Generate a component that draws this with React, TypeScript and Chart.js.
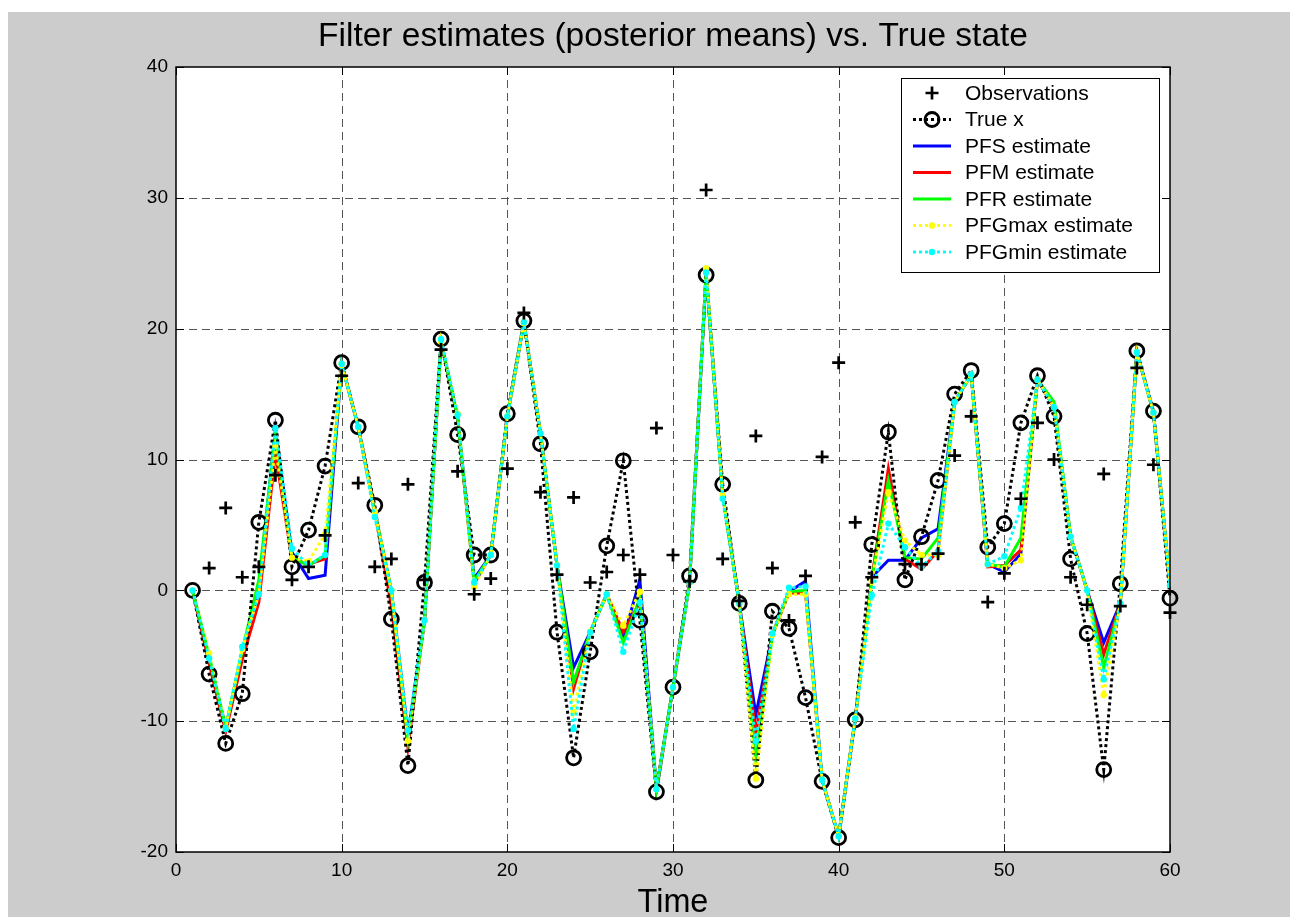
import React, { useEffect, useRef } from 'react';
import { Chart, registerables } from 'chart.js';

Chart.register(...registerables);

const FONT = "'Liberation Sans', Arial, Helvetica, sans-serif";

const chartTitle = 'Filter estimates (posterior means) vs. True state';
const xAxisTitle = 'Time';

const timeSteps = [
  1, 2, 3, 4, 5, 6, 7, 8, 9, 10,
  11, 12, 13, 14, 15, 16, 17, 18, 19, 20,
  21, 22, 23, 24, 25, 26, 27, 28, 29, 30,
  31, 32, 33, 34, 35, 36, 37, 38, 39, 40,
  41, 42, 43, 44, 45, 46, 47, 48, 49, 50,
  51, 52, 53, 54, 55, 56, 57, 58, 59, 60,
];

const observations = [
  null, 1.7, 6.3, 1.0, 1.8, 8.8, 0.8, 1.8, 4.2, 16.4,
  8.2, 1.8, 2.4, 8.1, 0.8, 18.4, 9.1, -0.3, 0.9, 9.3,
  21.2, 7.5, 1.2, 7.1, 0.6, 1.4, 2.7, 1.2, 12.4, 2.7,
  0.7, 30.6, 2.4, -0.8, 11.8, 1.7, -2.3, 1.1, 10.2, 17.4,
  5.2, 1.0, null, 2.0, 2.0, 2.8, 10.3, 13.3, -0.9, 1.3,
  7.0, 12.8, 10.0, 1.0, -1.1, 8.9, -1.2, 17.0, 9.6, -1.7,
];

const trueX = [
  0.0, -6.4, -11.7, -7.9, 5.2, 13.0, 1.8, 4.6, 9.5, 17.4,
  12.5, 6.5, -2.2, -13.4, 0.6, 19.2, 11.9, 2.7, 2.7, 13.5,
  20.6, 11.2, -3.2, -12.8, -4.7, 3.4, 9.9, -2.3, -15.4, -7.4,
  1.1, 24.1, 8.1, -1.0, -14.5, -1.6, -2.9, -8.2, -14.6, -18.9,
  -9.9, 3.5, 12.1, 0.8, 4.1, 8.4, 15.0, 16.8, 3.3, 5.1,
  12.8, 16.4, 13.3, 2.4, -3.3, -13.7, 0.5, 18.3, 13.7, -0.6,
];

const pfsEstimate = [
  0.0, -5.2, -10.5, -4.6, 0.0, 12.3, 2.9, 0.9, 1.15, 17.3,
  12.5, 6.0, 0.0, -11.0, -2.3, 19.0, 13.2, 0.9, 2.7, 13.3,
  20.5, 12.0, 1.9, -5.9, -3.2, -0.3, -3.7, 0.8, -15.2, -7.4,
  0.6, 24.3, 7.3, -1.0, -9.5, -3.4, -0.1, 0.7, -14.5, -18.8,
  -9.8, 1.0, 2.3, 2.3, 4.0, 4.7, 14.4, 16.5, 2.0, 1.4,
  2.8, 16.1, 14.0, 4.1, 0.0, -4.0, -1.0, 18.2, 13.6, 0.4,
];

const pfmEstimate = [
  0.0, -5.6, -10.8, -5.3, -0.9, 10.5, 2.4, 2.0, 2.4, 17.3,
  12.5, 6.0, -1.2, -12.0, -2.3, 19.0, 13.2, 0.5, 2.7, 13.3,
  20.5, 12.0, 1.9, -7.5, -3.2, -0.3, -3.2, -0.9, -15.2, -7.4,
  0.6, 24.3, 7.3, -1.0, -10.9, -3.4, -0.2, -0.2, -14.5, -18.8,
  -9.8, 0.9, 9.3, 2.4, 1.6, 3.0, 14.4, 16.5, 1.8, 1.9,
  3.1, 16.1, 14.0, 4.1, 0.0, -4.9, -1.0, 18.2, 13.6, 0.4,
];

const pfrEstimate = [
  0.0, -5.0, -10.5, -4.6, 0.8, 12.0, 2.5, 1.9, 2.7, 17.3,
  12.5, 6.0, 0.0, -11.5, -2.3, 19.0, 13.2, 0.7, 2.7, 13.3,
  20.5, 12.0, 1.9, -7.0, -3.2, -0.3, -4.0, -0.6, -15.2, -7.4,
  0.6, 24.3, 7.3, -1.0, -13.0, -3.4, -0.1, 0.0, -14.5, -18.8,
  -9.8, 0.8, 8.4, 2.5, 2.4, 4.0, 14.4, 16.5, 2.0, 1.8,
  4.0, 16.1, 14.4, 4.1, 0.0, -5.9, -1.0, 18.2, 13.6, 0.4,
];

const pfgMaxEstimate = [
  0.0, -4.8, -10.5, -4.5, -0.3, 11.0, 2.5, 2.2, 4.3, 17.3,
  12.5, 6.0, 0.0, -11.5, -2.3, 19.0, 13.5, 0.3, 2.7, 13.3,
  20.5, 12.0, 1.9, -9.3, -3.2, -0.3, -2.7, -0.1, -15.2, -7.4,
  0.6, 24.6, 7.3, -1.0, -14.4, -3.4, -0.3, -0.3, -14.5, -18.8,
  -9.8, 0.7, 7.5, 3.8, 2.7, 2.7, 14.4, 16.5, 2.0, 1.7,
  2.3, 16.1, 14.0, 4.1, 0.0, -8.0, -1.0, 18.2, 13.6, 0.4,
];

const pfgMinEstimate = [
  0.0, -5.2, -10.6, -4.3, -0.3, 12.4, 3.2, 1.9, 2.7, 17.3,
  12.5, 5.6, 0.0, -10.7, -2.3, 19.2, 13.4, 0.6, 2.7, 13.3,
  20.5, 12.0, 1.9, -10.6, -3.2, -0.3, -4.7, -0.9, -15.2, -7.4,
  0.6, 24.3, 7.0, -1.0, -11.5, -3.3, 0.2, 0.3, -14.5, -18.8,
  -9.8, -0.4, 5.1, 3.3, 1.8, 3.0, 14.4, 16.5, 2.0, 2.6,
  6.3, 16.1, 14.0, 4.1, 0.0, -6.8, -1.0, 18.2, 13.6, 0.4,
];

const xTicks = [0, 10, 20, 30, 40, 50, 60];
const yTicks = [-20, -10, 0, 10, 20, 30, 40];

const toPoints = (values: (number | null)[]) => timeSteps.map((t, i) => ({ x: t, y: values[i] }));

const drawLegendSample = (ctx: CanvasRenderingContext2D, ds: any, x1: number, x2: number, y: number) => {
  const cx = (x1 + x2) / 2;
  ctx.save();
  if (ds.showLine !== false) {
    ctx.strokeStyle = ds.borderColor;
    ctx.lineWidth = ds.borderWidth;
    ctx.setLineDash(ds.borderDash || []);
    ctx.beginPath();
    ctx.moveTo(x1, y);
    ctx.lineTo(x2, y);
    ctx.stroke();
  }
  ctx.setLineDash([]);
  const r = ds.pointRadius || 0;
  if (r > 0) {
    if (ds.pointStyle === 'cross') {
      ctx.strokeStyle = ds.pointBorderColor;
      ctx.lineWidth = ds.pointBorderWidth;
      ctx.beginPath();
      ctx.moveTo(cx - r, y);
      ctx.lineTo(cx + r, y);
      ctx.moveTo(cx, y - r);
      ctx.lineTo(cx, y + r);
      ctx.stroke();
    } else {
      ctx.beginPath();
      ctx.arc(cx, y, r, 0, Math.PI * 2);
      if (ds.pointBackgroundColor && ds.pointBackgroundColor !== 'rgba(0,0,0,0)') {
        ctx.fillStyle = ds.pointBackgroundColor;
        ctx.fill();
      }
      if (ds.pointBorderWidth > 0) {
        ctx.strokeStyle = ds.pointBorderColor;
        ctx.lineWidth = ds.pointBorderWidth;
        ctx.stroke();
      }
    }
  }
  ctx.restore();
};

const matlabAxesPlugin = {
  id: 'matlabAxes',
  beforeDraw(chart: any) {
    const { ctx, chartArea: a } = chart;
    ctx.save();
    ctx.fillStyle = '#cccccc';
    ctx.fillRect(0, 0, chart.width, chart.height);
    ctx.fillStyle = '#ffffff';
    ctx.fillRect(a.left, a.top, a.right - a.left, a.bottom - a.top);
    ctx.restore();
  },
  beforeDatasetsDraw(chart: any) {
    const { ctx, chartArea: a, scales } = chart;
    ctx.save();
    ctx.strokeStyle = '#555555';
    ctx.lineWidth = 1;
    ctx.setLineDash([8, 5]);
    xTicks.forEach((v) => {
      const px = Math.round(scales.x.getPixelForValue(v)) + 0.5;
      if (px <= a.left + 2 || px >= a.right - 2) return;
      ctx.beginPath();
      ctx.moveTo(px, a.top);
      ctx.lineTo(px, a.bottom);
      ctx.stroke();
    });
    yTicks.forEach((v) => {
      const py = Math.round(scales.y.getPixelForValue(v)) + 0.5;
      if (py <= a.top + 2 || py >= a.bottom - 2) return;
      ctx.beginPath();
      ctx.moveTo(a.left, py);
      ctx.lineTo(a.right, py);
      ctx.stroke();
    });
    ctx.restore();
  },
  afterDatasetsDraw(chart: any) {
    const { ctx, chartArea: a, scales } = chart;
    ctx.save();
    ctx.setLineDash([]);
    ctx.strokeStyle = '#000000';
    ctx.lineWidth = 1.5;
    ctx.strokeRect(a.left, a.top, a.right - a.left, a.bottom - a.top);
    ctx.lineWidth = 1;
    const tl = 8;
    xTicks.forEach((v) => {
      const px = Math.round(scales.x.getPixelForValue(v)) + 0.5;
      ctx.beginPath();
      ctx.moveTo(px, a.bottom);
      ctx.lineTo(px, a.bottom - tl);
      ctx.moveTo(px, a.top);
      ctx.lineTo(px, a.top + tl);
      ctx.stroke();
    });
    yTicks.forEach((v) => {
      const py = Math.round(scales.y.getPixelForValue(v)) + 0.5;
      ctx.beginPath();
      ctx.moveTo(a.left, py);
      ctx.lineTo(a.left + tl, py);
      ctx.moveTo(a.right, py);
      ctx.lineTo(a.right - tl, py);
      ctx.stroke();
    });
    ctx.restore();
  },
  afterDraw(chart: any) {
    const { ctx, chartArea: a } = chart;
    ctx.save();
    // title, centred over the axes box
    ctx.fillStyle = '#000000';
    ctx.font = `33.5px ${FONT}`;
    ctx.textAlign = 'center';
    ctx.textBaseline = 'alphabetic';
    ctx.fillText(chartTitle, (a.left + a.right) / 2, 34);

    // legend
    const w = 258;
    const h = 194;
    const left = a.right - 11 - w;
    const top = a.top + 11;
    ctx.fillStyle = '#ffffff';
    ctx.fillRect(left, top, w, h);
    ctx.strokeStyle = '#000000';
    ctx.lineWidth = 1;
    ctx.setLineDash([]);
    ctx.strokeRect(left + 0.5, top + 0.5, w, h);
    ctx.font = `21px ${FONT}`;
    ctx.textBaseline = 'middle';
    ctx.textAlign = 'left';
    chart.data.datasets.forEach((ds: any, i: number) => {
      const y = top + 15 + i * 26.5;
      drawLegendSample(ctx, ds, left + 12, left + 50, y);
      ctx.fillStyle = '#000000';
      ctx.fillText(ds.label, left + 64, y + 1);
    });
    ctx.restore();
  },
};

export default function App() {
  const canvasRef = useRef<HTMLCanvasElement | null>(null);

  useEffect(() => {
    if (!canvasRef.current) return;
    Chart.defaults.font.family = FONT;
    const chart = new Chart(canvasRef.current, {
      type: 'line',
      data: {
        datasets: [
          {
            label: 'Observations',
            data: toPoints(observations),
            showLine: false,
            pointStyle: 'cross',
            pointRadius: 6.5,
            pointBorderWidth: 2.7,
            pointBorderColor: '#000000',
            pointBackgroundColor: '#000000',
            borderColor: '#000000',
            clip: false,
            order: 0,
          },
          {
            label: 'True x',
            data: toPoints(trueX),
            borderColor: '#000000',
            borderWidth: 3,
            borderDash: [3, 3],
            pointStyle: 'circle',
            pointRadius: 7,
            pointBorderWidth: 2.8,
            pointBorderColor: '#000000',
            pointBackgroundColor: 'rgba(0,0,0,0)',
            clip: false,
            order: 3,
          },
          {
            label: 'PFS estimate',
            data: toPoints(pfsEstimate),
            borderColor: '#0000ff',
            borderWidth: 3,
            pointRadius: 0,
            order: 6,
          },
          {
            label: 'PFM estimate',
            data: toPoints(pfmEstimate),
            borderColor: '#ff0000',
            borderWidth: 3,
            pointRadius: 0,
            order: 5,
          },
          {
            label: 'PFR estimate',
            data: toPoints(pfrEstimate),
            borderColor: '#00ff00',
            borderWidth: 3,
            pointRadius: 0,
            order: 4,
          },
          {
            label: 'PFGmax estimate',
            data: toPoints(pfgMaxEstimate),
            borderColor: '#ffff00',
            borderWidth: 3,
            borderDash: [3, 3],
            pointStyle: 'circle',
            pointRadius: 3.2,
            pointBorderWidth: 0,
            pointBorderColor: '#ffff00',
            pointBackgroundColor: '#ffff00',
            order: 2,
          },
          {
            label: 'PFGmin estimate',
            data: toPoints(pfgMinEstimate),
            borderColor: '#00ffff',
            borderWidth: 3,
            borderDash: [3, 3],
            pointStyle: 'circle',
            pointRadius: 3.2,
            pointBorderWidth: 0,
            pointBorderColor: '#00ffff',
            pointBackgroundColor: '#00ffff',
            order: 1,
          },
        ],
      },
      options: {
        responsive: false,
        animation: false,
        devicePixelRatio: 1,
        layout: { padding: { left: 0, top: 55, right: 123, bottom: 0 } },
        plugins: {
          legend: { display: false },
          tooltip: { enabled: false },
          title: { display: false },
        },
        scales: {
          x: {
            type: 'linear',
            min: 0,
            max: 60,
            afterBuildTicks: (scale: any) => {
              scale.ticks = xTicks.map((v) => ({ value: v }));
            },
            afterFit: (scale: any) => {
              scale.height = 65;
            },
            grid: { display: false, drawTicks: false },
            border: { display: false },
            ticks: {
              color: '#000000',
              font: { size: 19, family: FONT },
              padding: 7,
              maxRotation: 0,
            },
            title: {
              display: true,
              text: xAxisTitle,
              color: '#000000',
              font: { size: 32.4, family: FONT, lineHeight: 0.85 },
              padding: 0,
            },
          },
          y: {
            type: 'linear',
            min: -20,
            max: 40,
            afterBuildTicks: (scale: any) => {
              scale.ticks = yTicks.map((v) => ({ value: v }));
            },
            afterFit: (scale: any) => {
              scale.width = 168;
            },
            grid: { display: false, drawTicks: false },
            border: { display: false },
            ticks: {
              color: '#000000',
              font: { size: 19, family: FONT },
              padding: 8,
            },
          },
        },
      },
      plugins: [matlabAxesPlugin],
    } as any);
    return () => chart.destroy();
  }, []);

  return (
    <div style={{ paddingTop: 4 }}>
      <canvas ref={canvasRef} width={1285} height={905} style={{ display: 'block' }} />
    </div>
  );
}
